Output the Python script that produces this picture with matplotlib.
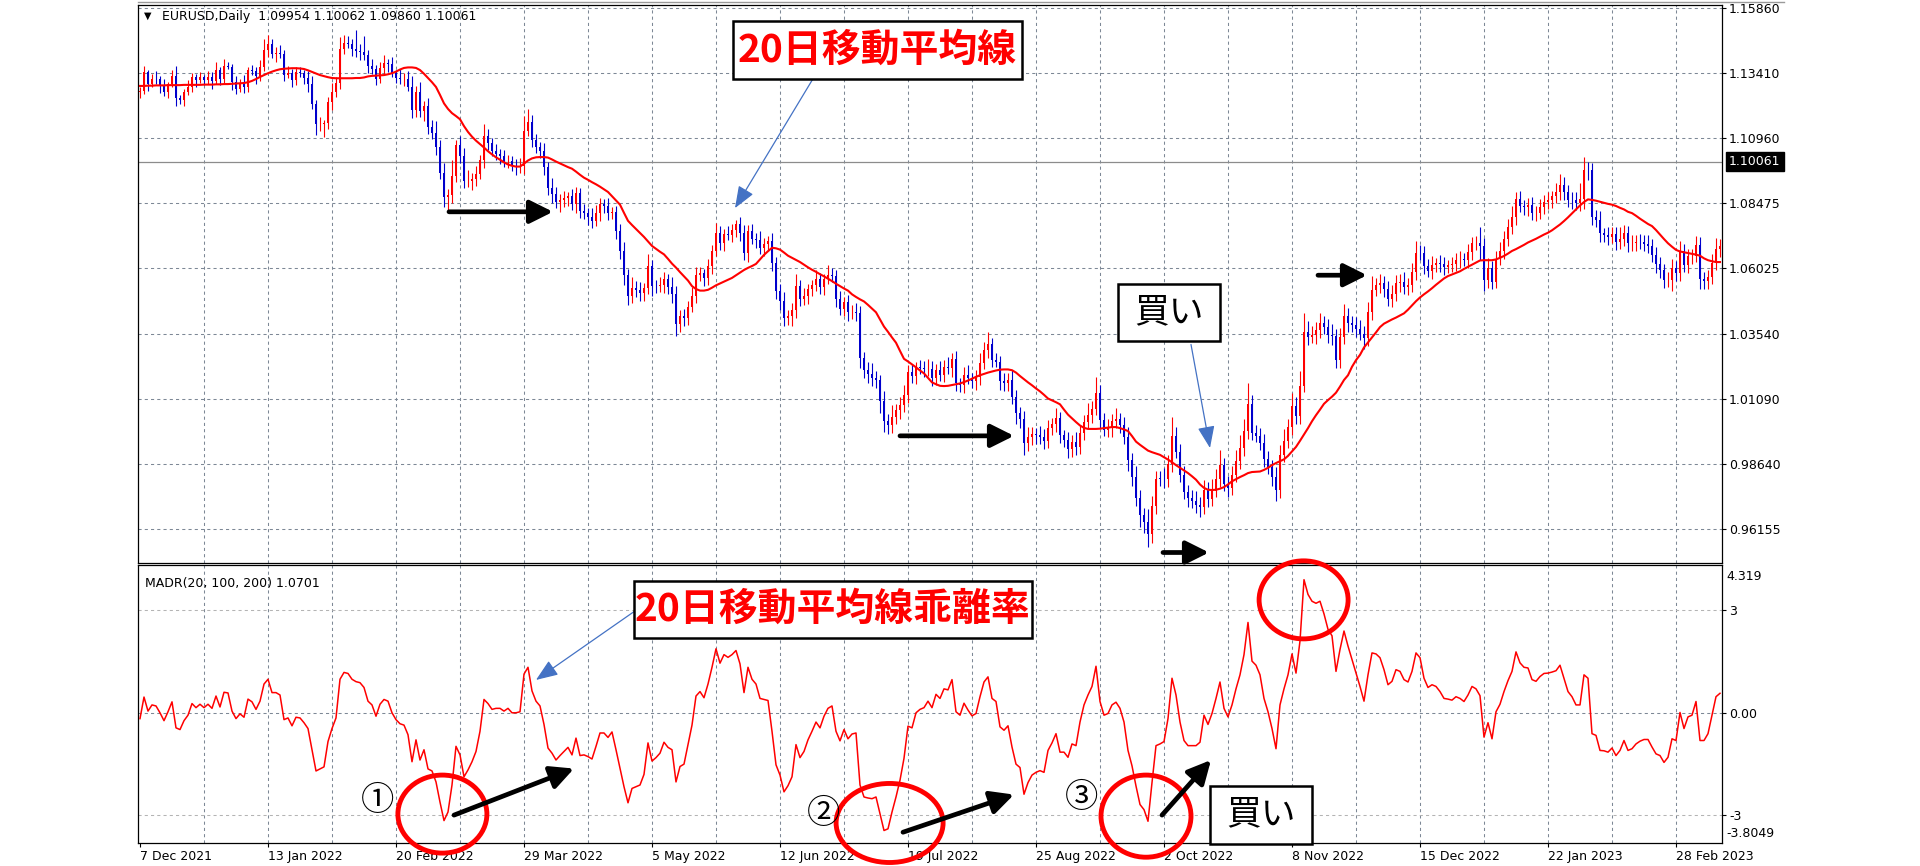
import numpy as np
import matplotlib
matplotlib.use('Agg')
import matplotlib.pyplot as plt
from matplotlib.patches import Rectangle, Ellipse
from matplotlib.lines import Line2D

# ---- data (EURUSD daily, 7 Dec 2021 .. early Mar 2023) ----
# 20-day moving average, one value per bar
ma20 = [
    1.1292, 1.1292, 1.1293, 1.1293, 1.1294, 1.1294, 1.1294, 1.1295, 1.1295, 1.1295, 1.1295, 1.1296, 1.1296, 1.1296, 1.1296, 1.1296, 1.1297, 1.1297, 1.1297, 1.1298,
    1.1298, 1.1299, 1.1299, 1.1300, 1.1301, 1.1302, 1.1303, 1.1306, 1.1311, 1.1318, 1.1326, 1.1333, 1.1340, 1.1346, 1.1351, 1.1355, 1.1357, 1.1358, 1.1359, 1.1359,
    1.1358, 1.1356, 1.1351, 1.1345, 1.1339, 1.1333, 1.1329, 1.1325, 1.1322, 1.1321, 1.1321, 1.1321, 1.1321, 1.1321, 1.1322, 1.1322, 1.1324, 1.1328, 1.1330, 1.1331,
    1.1332, 1.1333, 1.1336, 1.1340, 1.1346, 1.1354, 1.1360, 1.1362, 1.1362, 1.1360, 1.1352, 1.1338, 1.1322, 1.1306, 1.1288, 1.1258, 1.1226, 1.1205, 1.1189, 1.1178,
    1.1166, 1.1140, 1.1118, 1.1100, 1.1085, 1.1072, 1.1059, 1.1045, 1.1033, 1.1022, 1.1013, 1.1003, 1.0995, 1.0990, 1.0987, 1.0987, 1.0998, 1.1010, 1.1018, 1.1022,
    1.1023, 1.1023, 1.1021, 1.1014, 1.1006, 1.0999, 1.0992, 1.0985, 1.0979, 1.0968, 1.0956, 1.0945, 1.0937, 1.0928, 1.0920, 1.0911, 1.0901, 1.0891, 1.0875, 1.0859,
    1.0843, 1.0812, 1.0782, 1.0766, 1.0751, 1.0736, 1.0721, 1.0704, 1.0687, 1.0676, 1.0665, 1.0655, 1.0638, 1.0620, 1.0605, 1.0588, 1.0572, 1.0556, 1.0535, 1.0524,
    1.0518, 1.0518, 1.0521, 1.0529, 1.0538, 1.0545, 1.0552, 1.0559, 1.0566, 1.0576, 1.0586, 1.0596, 1.0604, 1.0611, 1.0619, 1.0636, 1.0653, 1.0667, 1.0680, 1.0678,
    1.0673, 1.0662, 1.0650, 1.0642, 1.0634, 1.0626, 1.0616, 1.0606, 1.0597, 1.0589, 1.0580, 1.0572, 1.0563, 1.0554, 1.0544, 1.0535, 1.0526, 1.0518, 1.0504, 1.0494,
    1.0485, 1.0477, 1.0464, 1.0450, 1.0436, 1.0409, 1.0382, 1.0362, 1.0341, 1.0321, 1.0290, 1.0260, 1.0250, 1.0239, 1.0228, 1.0216, 1.0205, 1.0188, 1.0171, 1.0164,
    1.0158, 1.0157, 1.0158, 1.0161, 1.0164, 1.0167, 1.0172, 1.0178, 1.0185, 1.0192, 1.0198, 1.0203, 1.0208, 1.0212, 1.0216, 1.0219, 1.0220, 1.0220, 1.0217, 1.0208,
    1.0195, 1.0183, 1.0171, 1.0160, 1.0148, 1.0137, 1.0124, 1.0110, 1.0103, 1.0096, 1.0088, 1.0068, 1.0049, 1.0035, 1.0021, 1.0008, 0.9999, 0.9995, 0.9995, 0.9995,
    0.9996, 0.9998, 1.0000, 1.0002, 1.0002, 0.9998, 0.9993, 0.9987, 0.9968, 0.9947, 0.9935, 0.9924, 0.9913, 0.9907, 0.9902, 0.9897, 0.9888, 0.9879, 0.9869, 0.9858,
    0.9848, 0.9838, 0.9828, 0.9816, 0.9803, 0.9785, 0.9772, 0.9765, 0.9764, 0.9765, 0.9769, 0.9775, 0.9785, 0.9797, 0.9805, 0.9813, 0.9820, 0.9828, 0.9832, 0.9833,
    0.9834, 0.9840, 0.9848, 0.9858, 0.9866, 0.9873, 0.9880, 0.9893, 0.9910, 0.9927, 0.9950, 0.9974, 0.9998, 1.0024, 1.0047, 1.0068, 1.0090, 1.0104, 1.0117, 1.0132,
    1.0155, 1.0180, 1.0198, 1.0230, 1.0255, 1.0275, 1.0303, 1.0322, 1.0341, 1.0360, 1.0380, 1.0393, 1.0401, 1.0409, 1.0416, 1.0424, 1.0432, 1.0446, 1.0462, 1.0478,
    1.0492, 1.0504, 1.0515, 1.0527, 1.0540, 1.0552, 1.0564, 1.0573, 1.0579, 1.0585, 1.0591, 1.0600, 1.0608, 1.0616, 1.0624, 1.0632, 1.0633, 1.0633, 1.0633, 1.0636,
    1.0642, 1.0649, 1.0658, 1.0668, 1.0675, 1.0683, 1.0691, 1.0700, 1.0707, 1.0714, 1.0722, 1.0730, 1.0737, 1.0746, 1.0757, 1.0768, 1.0781, 1.0795, 1.0810, 1.0825,
    1.0840, 1.0853, 1.0863, 1.0861, 1.0858, 1.0854, 1.0850, 1.0846, 1.0843, 1.0838, 1.0831, 1.0825, 1.0816, 1.0811, 1.0801, 1.0790, 1.0780, 1.0770, 1.0762, 1.0747,
    1.0730, 1.0713, 1.0697, 1.0684, 1.0672, 1.0666, 1.0663, 1.0660, 1.0657, 1.0654, 1.0650, 1.0640, 1.0633, 1.0629, 1.0626, 1.0626,
]

# MADR(20): deviation of close from the 20-day MA, in %
madr = [
    -0.17, 0.46, 0.05, 0.23, 0.20, 0.00, -0.23, 0.03, 0.32, -0.44, -0.49, -0.23, -0.07, 0.27, 0.15, 0.25, 0.15, 0.25, 0.13, 0.49,
    0.17, 0.60, 0.58, 0.05, -0.17, -0.03, -0.13, 0.40, 0.32, 0.10, 0.34, 0.84, 0.98, 0.59, 0.59, 0.52, -0.20, -0.15, -0.38, -0.13,
    -0.15, -0.29, -0.46, -1.08, -1.70, -1.64, -1.58, -0.84, -0.46, -0.15, 0.98, 1.18, 1.15, 0.98, 0.91, 0.88, 0.74, 0.34, 0.23, -0.10,
    0.25, 0.39, 0.34, 0.00, -0.20, -0.32, -0.36, -0.64, -1.43, -0.79, -1.38, -1.08, -1.64, -1.70, -2.02, -2.61, -3.15, -2.90, -2.11, -0.98,
    -1.23, -1.87, -1.67, -1.43, -1.13, -0.54, 0.39, 0.27, 0.10, 0.13, 0.13, 0.05, 0.13, 0.00, 0.00, 0.03, 1.13, 1.33, 0.64, 0.34,
    0.20, -0.34, -1.03, -1.18, -1.38, -1.25, -1.13, -1.01, -1.23, -0.74, -1.25, -1.23, -1.28, -1.35, -0.98, -0.59, -0.59, -0.72, -0.56, -1.08,
    -1.62, -2.16, -2.63, -2.21, -2.16, -2.11, -1.80, -0.88, -1.41, -1.31, -1.18, -0.86, -1.01, -1.08, -2.02, -1.57, -1.50, -0.93, -0.36, 0.49,
    0.62, 0.44, 0.84, 1.33, 1.87, 1.45, 1.70, 1.62, 1.70, 1.82, 1.43, 0.59, 1.33, 0.98, 0.84, 0.42, 0.39, 0.36, -0.54, -1.52,
    -1.82, -2.31, -2.13, -1.87, -0.93, -1.31, -1.13, -0.79, -0.54, -0.27, -0.44, -0.10, 0.13, 0.20, -0.54, -0.82, -0.49, -0.76, -0.62, -0.59,
    -2.11, -2.46, -2.49, -2.51, -2.46, -2.95, -3.44, -3.39, -2.90, -2.46, -1.97, -1.33, -0.39, -0.44, 0.00, 0.10, 0.15, 0.34, 0.15, 0.54,
    0.42, 0.70, 0.67, 0.97, 0.03, -0.07, 0.28, 0.08, -0.09, -0.02, 0.47, 0.90, 1.05, 0.42, 0.33, -0.41, -0.51, -0.38, -1.00, -1.50,
    -1.60, -2.38, -2.04, -1.82, -1.74, -1.69, -1.74, -1.10, -0.88, -0.61, -1.15, -1.15, -1.30, -0.91, -0.96, -0.27, 0.23, 0.52, 0.77, 1.36,
    0.33, -0.07, -0.02, 0.23, 0.31, 0.13, -0.27, -1.10, -1.55, -2.14, -2.68, -2.83, -3.17, -2.04, -0.96, -0.91, -0.84, -0.17, 1.01, 0.52,
    -0.27, -0.81, -0.96, -0.96, -0.96, -0.86, -0.07, -0.34, -0.02, 0.42, 0.90, 0.13, -0.12, 0.23, 0.70, 1.11, 1.70, 2.64, 1.51, 1.39,
    1.11, 0.42, 0.03, -0.46, -1.05, 0.23, 0.70, 1.11, 1.72, 1.16, 2.10, 3.89, 3.46, 3.26, 3.20, 3.26, 2.89, 2.44, 2.25, 1.21,
    1.85, 2.39, 1.95, 1.56, 1.16, 0.77, 0.34, 1.11, 1.75, 1.72, 1.61, 1.26, 0.82, 0.92, 1.26, 1.21, 0.97, 0.90, 1.21, 1.75,
    1.61, 1.01, 0.74, 0.82, 0.77, 0.62, 0.42, 0.40, 0.37, 0.47, 0.42, 0.33, 0.52, 0.77, 0.70, 0.50, -0.71, -0.29, -0.76, 0.03,
    0.25, 0.62, 0.94, 1.21, 1.78, 1.46, 1.33, 1.31, 0.97, 0.92, 1.06, 1.15, 1.16, 1.19, 1.23, 1.39, 1.01, 0.62, 0.47, 0.23,
    0.23, 1.11, 1.01, -0.61, -0.66, -1.10, -1.11, -1.15, -1.03, -1.25, -1.10, -0.81, -1.10, -1.05, -0.91, -0.83, -0.78, -0.78, -1.00, -1.20,
    -1.25, -1.45, -1.30, -0.76, -0.81, 0.01, -0.46, -0.12, -0.07, 0.33, -0.81, -0.81, -0.61, -0.07, 0.47, 0.57,
]

# candle shadows in pips above / below the body
wick_hi = [
    15, 22, 10, 18, 30, 12, 25, 8, 20, 35, 14, 10, 28, 16, 12, 20, 9, 24, 18, 30,
    12, 26, 15, 10, 22, 18, 34, 12, 20, 16, 25, 40, 35, 18, 22, 30, 12, 26, 14, 20,
    18, 10, 24, 30, 16, 28, 12, 22, 35, 20, 45, 30, 26, 18, 70, 24, 60, 20, 28, 16,
    22, 30, 18, 25, 14, 32, 20, 28, 40, 22, 35, 18, 30, 26, 45, 28, 38, 24, 60, 20,
    35, 28, 40, 22, 30, 18, 45, 26, 20, 30, 16, 24, 22, 18, 26, 30, 55, 48, 25, 20,
    22, 30, 18, 35, 24, 20, 28, 16, 30, 22, 18, 26, 20, 34, 28, 22, 16, 30, 20, 24,
    28, 35, 22, 40, 26, 30, 18, 45, 24, 20, 32, 26, 18, 40, 30, 22, 28, 20, 35, 30,
    25, 18, 30, 22, 40, 26, 20, 32, 24, 18, 28, 30, 22, 26, 20, 34, 24, 18, 30, 22,
    26, 35, 20, 28, 45, 24, 30, 22, 18, 35, 26, 20, 40, 28, 22, 30, 18, 26, 24, 32,
    28, 22, 30, 40, 26, 20, 35, 28, 45, 22, 30, 38, 26, 32, 20, 28, 24, 36, 30, 22,
    32, 26, 40, 24, 30, 22, 28, 35, 20, 26, 38, 30, 45, 24, 28, 22, 30, 26, 35, 28,
    24, 30, 40, 26, 22, 35, 28, 30, 24, 38, 26, 20, 32, 28, 40, 30, 26, 45, 28, 60,
    30, 26, 35, 28, 40, 24, 30, 36, 28, 42, 30, 26, 50, 38, 30, 28, 40, 34, 70, 35,
    28, 32, 26, 30, 40, 28, 35, 30, 45, 38, 60, 30, 28, 36, 40, 50, 45, 80, 36, 30,
    28, 34, 30, 26, 40, 38, 45, 30, 50, 36, 55, 70, 40, 34, 30, 38, 26, 30, 40, 28,
    32, 45, 30, 26, 28, 34, 30, 40, 50, 28, 32, 26, 30, 36, 28, 30, 40, 26, 34, 45,
    30, 26, 28, 34, 22, 30, 26, 20, 28, 24, 32, 26, 30, 22, 28, 60, 30, 40, 26, 30,
    34, 28, 30, 40, 26, 30, 22, 28, 32, 24, 30, 26, 28, 22, 34, 40, 30, 26, 28, 30,
    60, 50, 30, 26, 28, 34, 22, 30, 26, 28, 45, 30, 26, 32, 24, 30, 28, 34, 26, 30,
    28, 24, 30, 36, 28, 40, 26, 30, 24, 36, 30, 26, 28, 34, 40, 26,
]
wick_lo = [
    20, 12, 25, 10, 18, 30, 14, 22, 10, 28, 16, 24, 12, 20, 26, 10, 18, 14, 30, 12,
    22, 16, 10, 28, 20, 14, 24, 18, 12, 30, 20, 16, 26, 14, 30, 18, 22, 12, 28, 20,
    14, 22, 30, 18, 40, 26, 50, 22, 30, 18, 25, 20, 16, 28, 22, 30, 18, 24, 20, 26,
    18, 24, 30, 16, 22, 20, 26, 18, 30, 24, 20, 35, 28, 22, 30, 26, 40, 50, 30, 24,
    30, 26, 22, 35, 28, 20, 30, 24, 18, 26, 30, 22, 28, 20, 32, 24, 30, 20, 26, 22,
    24, 30, 28, 35, 22, 40, 26, 30, 20, 34, 28, 22, 30, 26, 20, 32, 24, 28, 22, 30,
    30, 40, 35, 28, 26, 32, 30, 24, 40, 28, 22, 30, 26, 34, 45, 28, 30, 24, 22, 26,
    20, 28, 24, 30, 22, 26, 32, 20, 28, 24, 30, 26, 34, 22, 28, 24, 30, 26, 32, 28,
    35, 30, 26, 40, 30, 28, 24, 30, 26, 22, 28, 32, 20, 26, 30, 24, 28, 34, 26, 30,
    40, 32, 35, 30, 28, 45, 40, 35, 30, 26, 34, 28, 30, 24, 28, 22, 30, 26, 28, 24,
    26, 30, 22, 34, 28, 24, 30, 20, 26, 32, 28, 24, 30, 26, 22, 34, 28, 30, 26, 40,
    35, 45, 30, 28, 34, 26, 30, 24, 28, 32, 30, 26, 34, 28, 30, 24, 28, 22, 30, 26,
    30, 24, 28, 34, 26, 30, 28, 40, 35, 30, 45, 40, 50, 35, 30, 26, 34, 28, 30, 26,
    28, 30, 34, 26, 30, 40, 28, 32, 30, 26, 30, 28, 34, 30, 26, 32, 28, 30, 26, 24,
    26, 30, 28, 34, 40, 30, 26, 28, 32, 30, 28, 26, 30, 24, 34, 28, 26, 30, 32, 28,
    30, 26, 34, 28, 30, 24, 40, 30, 28, 26, 30, 32, 28, 30, 26, 34, 28, 30, 26, 32,
    28, 30, 24, 30, 26, 28, 30, 24, 28, 26, 30, 24, 32, 28, 26, 50, 40, 30, 28, 26,
    24, 30, 28, 26, 30, 24, 28, 34, 26, 30, 24, 28, 26, 30, 24, 28, 30, 26, 34, 28,
    30, 40, 35, 30, 26, 32, 28, 30, 24, 30, 28, 26, 32, 28, 30, 26, 28, 24, 30, 34,
    30, 28, 26, 40, 32, 30, 26, 28, 30, 24, 40, 28, 30, 26, 24, 30,
]
first_open = 1.1268

date_labels = ['7 Dec 2021', '13 Jan 2022', '20 Feb 2022', '29 Mar 2022', '5 May 2022',
               '12 Jun 2022', '19 Jul 2022', '25 Aug 2022', '2 Oct 2022', '8 Nov 2022',
               '15 Dec 2022', '22 Jan 2023', '28 Feb 2023']
price_ticks = [1.15860, 1.13410, 1.10960, 1.08475, 1.06025, 1.03540, 1.01090, 0.98640, 0.96155]
last_price = 1.10061
madr_ticks = [3, 0, -3]
madr_tick_labels = ['3', '0.00', '-3']
madr_max, madr_min = 4.319, -3.8049

assert len(ma20) == len(madr) == len(wick_hi) == len(wick_lo)

# ---- candles from the read series ----
ma = np.array(ma20)
close = ma * (1 + np.array(madr) / 100)
open_ = np.concatenate([[first_open], close[:-1]])
high = np.maximum(open_, close) + np.array(wick_hi) * 0.0001
low = np.minimum(open_, close) - np.array(wick_lo) * 0.0001
x = np.arange(len(close))
cols = np.where(close >= open_, '#ff0000', '#0000cc')

plt.rcParams['font.family'] = ['DejaVu Sans', 'Noto Sans CJK JP']
JP = ['Noto Sans CJK JP', 'DejaVu Sans']
GRID = '#7d8896'

W, H = 1920, 866
fig = plt.figure(figsize=(19.2, 8.66), dpi=100)
ax1 = fig.add_axes([138 / W, 1 - 563 / H, 1584 / W, 558 / H])
ax2 = fig.add_axes([138 / W, 1 - 843 / H, 1584 / W, 278 / H])

nbars = len(close)
for ax in (ax1, ax2):
    ax.set_xlim(-0.5, nbars - 0.5)
    for s in ax.spines.values():
        s.set_linewidth(0.9)
        s.set_color('black')
    for g in range(16, nbars, 16):
        ax.axvline(g, color=GRID, lw=0.75, ls=(0, (3, 3)), zorder=0)
    ax.yaxis.tick_right()
    ax.tick_params(axis='y', direction='out', length=3, pad=2, labelsize=9, width=0.8)

# ---- price panel ----
ax1.set_ylim(0.9488, 1.1598)
for p in price_ticks:
    ax1.axhline(p, color=GRID, lw=0.75, ls=(0, (3, 3)), zorder=0)
ax1.set_yticks(price_ticks)
ax1.set_yticklabels([f'{p:.5f}' for p in price_ticks])
ax1.tick_params(axis='x', length=0, labelbottom=False)
ax1.axhline(last_price, color='#8c8c8c', lw=0.9, zorder=1)

ax1.vlines(x, low, high, colors=cols, lw=0.8, zorder=2)
body = np.maximum(np.abs(close - open_), 0.00008)
ax1.bar(x, body, bottom=np.minimum(open_, close), width=0.72, color=cols, lw=0, zorder=3)
ax1.plot(x, ma, color='#ff0000', lw=1.5, zorder=4)

ax1.annotate(f'{last_price:.5f}', xy=(1, last_price), xycoords=('axes fraction', 'data'),
             xytext=(5, 0), textcoords='offset points', va='center', ha='left',
             fontsize=9, color='white',
             bbox=dict(boxstyle='square,pad=0.25', fc='black', ec='black'),
             annotation_clip=False)
ax1.text(0.0035, 0.980, '▼', transform=ax1.transAxes, fontsize=7, va='center', ha='left')
ax1.text(0.0152, 0.980, 'EURUSD,Daily  1.09954 1.10062 1.09860 1.10061',
         transform=ax1.transAxes, fontsize=9, va='center', ha='left')

# ---- MADR panel ----
ax2.set_ylim(madr_min, madr_max)
ax2.axhline(3, color='#b4b4b4', lw=0.75, ls=(0, (3, 3)), zorder=0)
ax2.axhline(0, color=GRID, lw=0.75, ls=(0, (3, 3)), zorder=0)
ax2.axhline(-3, color='#b4b4b4', lw=0.75, ls=(0, (3, 3)), zorder=0)
ax2.set_yticks(madr_ticks)
ax2.set_yticklabels(madr_tick_labels)
ax2.plot(x, madr, color='#ff0000', lw=1.1, zorder=3)
ax2.annotate(f'{madr_max}', xy=(1, madr_max), xycoords=('axes fraction', 'data'),
             xytext=(3.5, -8), textcoords='offset points', va='center', fontsize=9,
             annotation_clip=False)
ax2.annotate(f'{madr_min}', xy=(1, madr_min), xycoords=('axes fraction', 'data'),
             xytext=(3.5, 6.5), textcoords='offset points', va='center', fontsize=9,
             annotation_clip=False)
ax2.text(0.0045, 0.935, 'MADR(20, 100, 200) 1.0701', transform=ax2.transAxes,
         fontsize=9, va='center', ha='left')

ax2.set_xticks(np.arange(0, nbars, 32))
ax2.set_xticklabels(date_labels, ha='left')
ax2.tick_params(axis='x', direction='out', length=3, pad=2, labelsize=9, width=0.8)

fig.add_artist(Line2D([138 / W, 1784 / W], [1 - 2 / H, 1 - 2 / H], color='#9a9a9a', lw=1))


# ---- annotations ----
def label_box(ax, x0, x1, y0, y1, text, color, bold, size):
    ax.add_patch(Rectangle((x0, y0), x1 - x0, y1 - y0, fc='white', ec='black',
                           lw=1.8, zorder=8, clip_on=False))
    ax.text((x0 + x1) / 2, (y0 + y1) / 2, text, color=color, family=JP,
            fontweight='bold' if bold else 'normal', fontsize=size,
            ha='center', va='center', zorder=9, clip_on=False)


def black_arrow(ax, tail, tip):
    ax.annotate('', xy=tip, xytext=tail, annotation_clip=False, zorder=7,
                arrowprops=dict(arrowstyle='-|>,head_length=0.7,head_width=0.35',
                                mutation_scale=20, lw=3.4, color='black',
                                shrinkA=0, shrinkB=0))


def blue_arrow(ax, tail, tip):
    ax.annotate('', xy=tip, xytext=tail, annotation_clip=False, zorder=7,
                arrowprops=dict(arrowstyle='-|>,head_length=0.9,head_width=0.35',
                                mutation_scale=15, lw=0.9, color='#4472c4',
                                shrinkA=0, shrinkB=0))


label_box(ax1, 148.25, 220.5, 1.13192, 1.15374, '20日移動平均線', '#ff0000', True, 28)
blue_arrow(ax1, (168.25, 1.13192), (148.75, 1.0830))
label_box(ax1, 244.5, 270.0, 1.03256, 1.05438, '買い', 'black', False, 25)
blue_arrow(ax1, (262.75, 1.03143), (267.5, 0.99229))

black_arrow(ax1, (77.25, 1.0816), (103.25, 1.0816))
black_arrow(ax1, (190.0, 0.99688), (218.5, 0.99688))
black_arrow(ax1, (255.75, 0.95277), (267.25, 0.95277))
black_arrow(ax1, (294.5, 1.05762), (306.75, 1.05762))

label_box(ax2, 123.5, 223.0, 2.187, 3.854, '20日移動平均線乖離率', '#ff0000', True, 28)
blue_arrow(ax2, (123.5, 2.956), (99.0, 0.96))

for cx, cy, w, h in [(75.6, -2.96, 22.25, 2.28), (187.4, -3.22, 26.75, 2.31),
                     (251.5, -3.02, 22.5, 2.40), (290.9, 3.30, 22.25, 2.28)]:
    ax2.add_patch(Ellipse((cx, cy), w, h, fill=False, ec='#ff0000', lw=3.5,
                          zorder=6, clip_on=False))

for tx, ty, s in [(59.5, -2.55, '①'), (171.0, -2.93, '②'), (235.5, -2.47, '③')]:
    ax2.text(tx, ty, s, family=JP, fontsize=24, ha='center', va='center', zorder=7)

black_arrow(ax2, (78.5, -2.99), (108.5, -1.63))
black_arrow(ax2, (190.75, -3.49), (218.5, -2.39))
black_arrow(ax2, (255.5, -2.99), (267.75, -1.38))
label_box(ax2, 267.5, 293.0, -3.84, -2.14, '買い', 'black', False, 25)

fig.savefig('out.png', dpi=100)
